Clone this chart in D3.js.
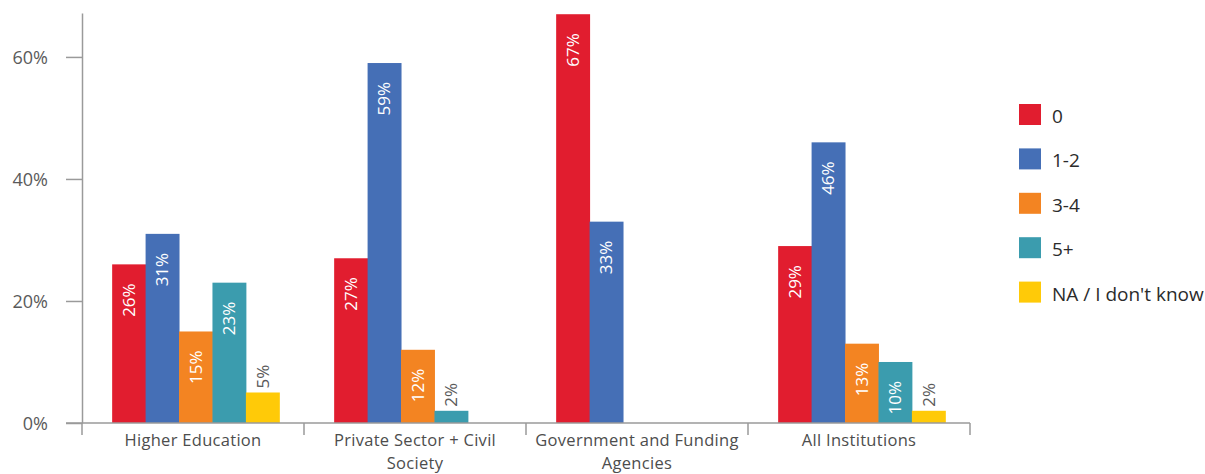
<!DOCTYPE html>
<html>
<head>
<meta charset="utf-8">
<script src="https://cdn.jsdelivr.net/npm/d3@7"></script>
<style>
  html, body { margin: 0; padding: 0; background: #fff; }
  svg { display: block; font-family: "Open Sans", "Noto Sans", sans-serif; }
</style>
</head>
<body>
<svg id="chart" width="1205" height="474"></svg>
<script>
// Institution groups shown along the x axis
const categories = [
  "Higher Education",
  "Private Sector + Civil Society",
  "Government and Funding Agencies",
  "All Institutions"
];
// Wrapped category label lines
const categoryLines = [
  ["Higher Education"],
  ["Private Sector + Civil", "Society"],
  ["Government and Funding", "Agencies"],
  ["All Institutions"]
];
// Response series
const seriesNames = ["0", "1-2", "3-4", "5+", "NA / I don't know"];
const seriesColors = ["#e11d2f", "#456fb6", "#f38422", "#3b9cae", "#ffca08"];
// Percentages per series, one entry per category (null = no bar)
const values0    = [26, 27, 67, 29];
const values12   = [31, 59, 33, 46];
const values34   = [15, 12, null, 13];
const values5p   = [23, 2, null, 10];
const valuesNA   = [5, null, null, 2];
const seriesValues = [values0, values12, values34, values5p, valuesNA];
// Y axis ticks
const yTicks = [0, 20, 40, 60];

const svg = d3.select("#chart");

const y = d3.scaleLinear().domain([0, 67.2]).range([423, 13]);
const x0 = d3.scaleBand().domain(categories).range([82, 970]).paddingInner(0).paddingOuter(0);
const x1 = d3.scaleBand().domain(seriesNames).range([0, x0.bandwidth()])
  .paddingInner(0).paddingOuter(0.82).align(0.55);

const axisColor = "#9a9a9a";

// Y axis
const yAxis = svg.append("g")
  .attr("transform", "translate(82,0)")
  .call(d3.axisLeft(y).tickValues(yTicks).tickSize(16).tickSizeOuter(0).tickPadding(18)
    .tickFormat(d => d + "%"));
yAxis.select(".domain").attr("stroke", axisColor).attr("stroke-width", 1.5);
yAxis.selectAll(".tick line").attr("stroke", axisColor).attr("stroke-width", 1.5);
yAxis.selectAll(".tick text")
  .attr("fill", "#5a5a5a").attr("font-size", 18).attr("font-family", "'Open Sans', sans-serif")
  .attr("dy", "0.35em");

// Bars
const groups = svg.append("g").selectAll("g")
  .data(categories)
  .join("g")
  .attr("transform", d => `translate(${x0(d)},0)`);

const barData = (cat, ci) => seriesNames.map((s, si) => ({
  cat, series: s, si, v: seriesValues[si][ci]
})).filter(d => d.v !== null);

groups.selectAll("rect")
  .data((d, i) => barData(d, i))
  .join("rect")
  .attr("x", d => x1(d.series))
  .attr("width", x1.bandwidth() + 0.5)
  .attr("y", d => y(d.v))
  .attr("height", d => y(0) - y(d.v))
  .attr("fill", d => seriesColors[d.si]);

// Value labels, rotated, inside the top of each bar (above it when the bar is too short)
groups.selectAll("text.val")
  .data((d, i) => barData(d, i))
  .join("text")
  .attr("class", "val")
  .attr("font-size", 17)
  .attr("text-anchor", "end")
  .attr("dy", "0.36em")
  .text(d => d.v + "%")
  .each(function (d) {
    const len = this.getComputedTextLength();
    const h = y(0) - y(d.v);
    const cx = x1(d.series) + x1.bandwidth() / 2;
    let ty, fill, anchor;
    if (h >= len + 8) {
      const off = Math.min(19, h - len - 4);
      ty = y(d.v) + off; fill = "#ffffff"; anchor = "end";
    } else {
      ty = y(d.v) - 4; fill = "#5a5a5a"; anchor = "start";
    }
    d3.select(this)
      .attr("fill", fill)
      .attr("text-anchor", anchor)
      .attr("transform", `translate(${cx},${ty}) rotate(-90)`);
  });

// X axis line and category boundary ticks
const xAxis = svg.append("g");
xAxis.append("line")
  .attr("x1", 66).attr("x2", x0.range()[1])
  .attr("y1", y(0)).attr("y2", y(0))
  .attr("stroke", axisColor).attr("stroke-width", 1.5);
const bounds = categories.map(c => x0(c)).concat([x0.range()[1]]);
xAxis.selectAll("line.tick")
  .data(bounds)
  .join("line")
  .attr("class", "tick")
  .attr("x1", d => d).attr("x2", d => d)
  .attr("y1", y(0)).attr("y2", y(0) + 12)
  .attr("stroke", axisColor).attr("stroke-width", 1.5);

// Category labels
const catLabels = xAxis.selectAll("text.cat")
  .data(categories)
  .join("text")
  .attr("class", "cat")
  .attr("x", d => x0(d) + x0.bandwidth() / 2)
  .attr("y", 446)
  .attr("text-anchor", "middle")
  .attr("fill", "#4d4d4d")
  .attr("font-size", 16.5)
  .attr("letter-spacing", 0.3);
catLabels.selectAll("tspan")
  .data((d, i) => categoryLines[i])
  .join("tspan")
  .attr("x", function () { return this.parentNode.getAttribute("x"); })
  .attr("dy", (d, i) => i === 0 ? 0 : 22.6)
  .text(d => d);

// Legend
const legend = svg.append("g").attr("transform", "translate(1019,104)");
const items = legend.selectAll("g")
  .data(seriesNames)
  .join("g")
  .attr("transform", (d, i) => `translate(0,${i * 44.4})`);
items.append("rect")
  .attr("width", 22).attr("height", 21)
  .attr("fill", (d, i) => seriesColors[i]);
items.append("text")
  .attr("x", 33).attr("y", 19)
  .attr("fill", "#2b2b2b")
  .attr("font-size", 19)
  .text(d => d);
</script>
</body>
</html>
